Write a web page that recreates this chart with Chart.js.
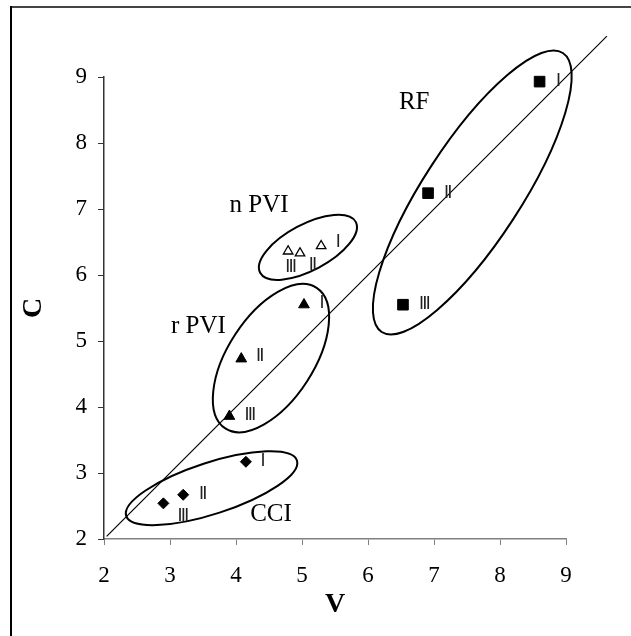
<!DOCTYPE html>
<html>
<head>
<meta charset="utf-8">
<script src="https://cdn.jsdelivr.net/npm/chart.js@4"></script>
<style>
html, body { margin: 0; padding: 0; background: #fff; }
#wrap { position: relative; width: 631px; height: 636px; }
</style>
</head>
<body>
<div id="wrap"><canvas id="scatterChart"></canvas></div>
<script>

// values (V on x, C on y), order: stage I, II, III
const cciV  = [4.15, 3.20, 2.90];
const cciC  = [3.17, 2.67, 2.54];

const rpviV = [5.03, 4.08, 3.90];
const rpviC = [5.55, 4.73, 3.86];

const npviV = [5.29, 4.97, 4.79];
const npviC = [6.44, 6.33, 6.36];

const rfV   = [8.60, 6.91, 6.53];
const rfC   = [8.93, 7.24, 5.55];

const stages = ["Ⅰ", "Ⅱ", "Ⅲ"];

const groupNames = ["CCI", "r PVI", "n PVI", "RF"];
const groupLabelV = [4.53, 3.43, 4.35, 6.70];
const groupLabelC = [2.37, 5.22, 7.06, 8.62];

// ellipses round each group: centre, half axes (axis units), tilt in degrees
const ellipseV = [3.63, 4.53, 5.09, 7.58];
const ellipseC = [2.77, 4.74, 6.42, 7.25];
const ellipseA = [1.36, 1.27, 0.82, 2.52];
const ellipseB = [0.39, 0.65, 0.35, 0.74];
const ellipseTilt = [18, 57, 28, 57];

const diagonal = [2.04, 9.62];

const tickValues = [2, 3, 4, 5, 6, 7, 8, 9];

function toPoints(xs, ys){

    return xs.map((x, i) => ({ x: x, y: ys[i] }));

}

// pixel nudges of the stage numerals next to each marker
const stageOffsets = {
    cci:  [[17, 0], [20, 0], [20, 13]],
    rpvi: [[18, -1], [19, -2], [21, -1]],
    npvi: [[17, -3], [13, 12], [3, 16]],
    rf:   [[19, 0], [20, 0], [22, 0]]
};

const annotations = {

    id: "annotations",

    afterDatasetsDraw(chart){

        const ctx = chart.ctx;
        const xs = chart.scales.x;
        const ys = chart.scales.y;
        const unit = xs.getPixelForValue(1) - xs.getPixelForValue(0);

        ctx.save();

        // frame lines
        ctx.lineWidth = 2;
        ctx.strokeStyle = "#444";
        ctx.beginPath();
        ctx.moveTo(11, 7);
        ctx.lineTo(631, 7);
        ctx.stroke();
        ctx.strokeStyle = "#000";
        ctx.beginPath();
        ctx.moveTo(11, 6);
        ctx.lineTo(11, 636);
        ctx.stroke();

        // group ellipses
        ctx.lineWidth = 2;
        ctx.strokeStyle = "#000";

        ellipseV.forEach((v, i) => {

            ctx.beginPath();
            ctx.ellipse(
                xs.getPixelForValue(v),
                ys.getPixelForValue(ellipseC[i]),
                ellipseA[i] * unit,
                ellipseB[i] * unit,
                -ellipseTilt[i] * Math.PI / 180,
                0,
                Math.PI * 2
            );
            ctx.stroke();

        });

        // group names
        ctx.fillStyle = "#000";
        ctx.textAlign = "center";
        ctx.textBaseline = "middle";
        ctx.font = "25px 'Liberation Serif'";

        groupNames.forEach((name, i) => {

            ctx.fillText(
                name,
                xs.getPixelForValue(groupLabelV[i]),
                ys.getPixelForValue(groupLabelC[i])
            );

        });

        // stage numerals
        ctx.font = "17px 'DejaVu Sans'";
        ctx.fillStyle = "#222";

        const sets = [
            [cciV, cciC, stageOffsets.cci],
            [rpviV, rpviC, stageOffsets.rpvi],
            [npviV, npviC, stageOffsets.npvi],
            [rfV, rfC, stageOffsets.rf]
        ];

        sets.forEach(([vs, cs, offs]) => {

            vs.forEach((v, i) => {

                ctx.fillText(
                    stages[i],
                    xs.getPixelForValue(v) + offs[i][0],
                    ys.getPixelForValue(cs[i]) + offs[i][1]
                );

            });

        });

        ctx.restore();

    }

};

Chart.defaults.font.family = "'Liberation Serif', 'Times New Roman', serif";
Chart.defaults.color = "#000";

const ctx = document
    .getElementById("scatterChart")
    .getContext("2d");

const scatterChart = new Chart(ctx, {

    type: "scatter",

    data: {

        datasets: [

            {
                label: "diagonal",
                type: "line",
                data: toPoints(diagonal, diagonal),
                borderColor: "#000",
                borderWidth: 1.2,
                pointRadius: 0,
                fill: false,
                clip: false
            },

            {
                label: "CCI",
                data: toPoints(cciV, cciC),
                pointStyle: "rectRot",
                pointRadius: 5.5,
                backgroundColor: "#000",
                borderColor: "#000",
                borderWidth: 1,
                clip: false
            },

            {
                label: "r PVI",
                data: toPoints(rpviV, rpviC),
                pointStyle: "triangle",
                pointRadius: 6.2,
                backgroundColor: "#000",
                borderColor: "#000",
                borderWidth: 1,
                clip: false
            },

            {
                label: "n PVI",
                data: toPoints(npviV, npviC),
                pointStyle: "triangle",
                pointRadius: 5.5,
                backgroundColor: "#fff",
                borderColor: "#000",
                borderWidth: 1.3,
                clip: false
            },

            {
                label: "RF",
                data: toPoints(rfV, rfC),
                pointStyle: "rect",
                pointRadius: 7.5,
                backgroundColor: "#000",
                borderColor: "#000",
                borderWidth: 1,
                clip: false
            }

        ]

    },

    options: {

        responsive: true,

        maintainAspectRatio: false,

        animation: false,

        layout: {
            padding: { left: 0, top: 77, right: 65, bottom: 0 }
        },

        plugins: {
            legend: { display: false },
            tooltip: { enabled: false }
        },

        scales: {

            x: {

                type: "linear",
                min: 2,
                max: 9,

                afterBuildTicks(scale){
                    scale.ticks = tickValues.map(v => ({ value: v }));
                },

                afterFit(scale){
                    scale.height = 97;
                },

                border: { color: "#808080", width: 1.5 },

                grid: {
                    drawOnChartArea: false,
                    color: "#808080",
                    tickLength: 6
                },

                ticks: {
                    padding: 17,
                    color: "#000",
                    font: { size: 23 }
                },

                title: {
                    display: true,
                    text: "V",
                    color: "#000",
                    padding: { top: 0, bottom: 14 },
                    font: { size: 28, weight: "bold" }
                }

            },

            y: {

                type: "linear",
                min: 2,
                max: 9,

                afterBuildTicks(scale){
                    scale.ticks = tickValues.map(v => ({ value: v }));
                },

                afterFit(scale){
                    scale.width = 104;
                },

                border: { color: "#333", width: 1.5 },

                grid: {
                    drawOnChartArea: false,
                    color: "#333",
                    tickLength: 6
                },

                ticks: {
                    padding: 11,
                    color: "#000",
                    font: { size: 23 }
                },

                title: {
                    display: true,
                    text: "C",
                    color: "#000",
                    padding: { top: 17, bottom: 0 },
                    font: { size: 28, weight: "bold" }
                }

            }

        }

    },

    plugins: [annotations]

});

</script>
</body>
</html>
